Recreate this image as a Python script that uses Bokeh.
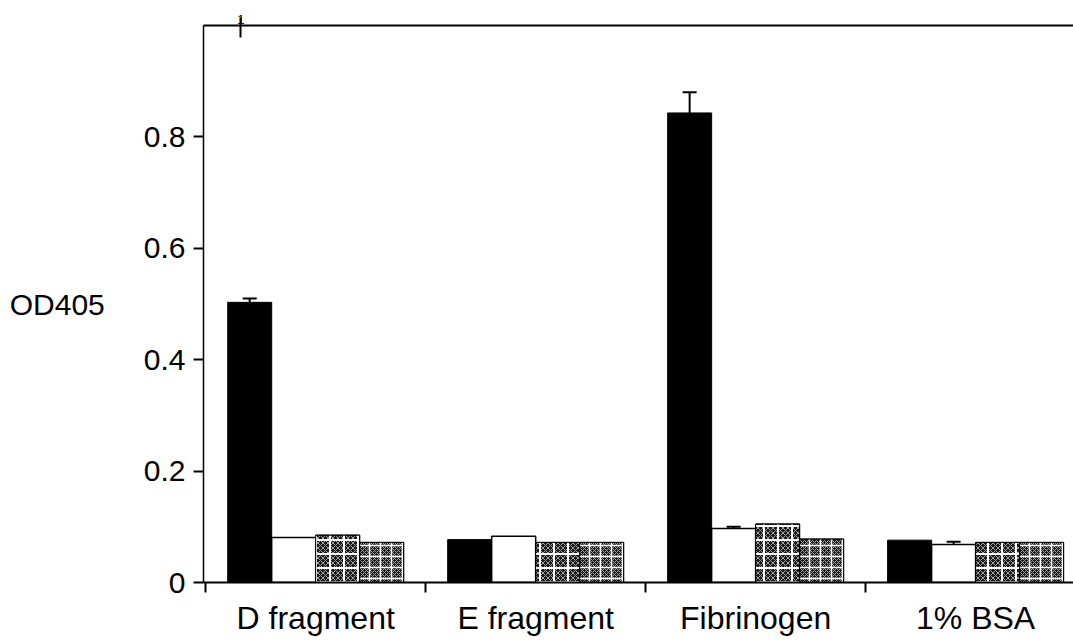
from bokeh.plotting import figure
from bokeh.models import FixedTicker, ColumnDataSource, Whisker, TeeHead, Range1d, LinearAxis
from bokeh.embed import file_html
from bokeh.resources import INLINE

categories = ["D fragment", "E fragment", "Fibrinogen", "1% BSA"]
black_vals = [0.503, 0.077, 0.843, 0.076]
white_vals = [0.081, 0.083, 0.097, 0.068]
cross_vals = [0.085, 0.072, 0.105, 0.072]
fine_vals = [0.072, 0.072, 0.078, 0.072]
black_err = [0.007, 0.0, 0.037, 0.0]
white_err = [0.0, 0.0, 0.003, 0.005]
y_ticks = [0, 0.2, 0.4, 0.6, 0.8]
y_labels = ["0", "0.2", "0.4", "0.6", "0.8"]
top_mark_x = [0.16]
top_mark_label = ["1"]

FONT = "Liberation Sans"

p = figure(frame_width=870, frame_height=557, output_backend="svg", toolbar_location=None,
           x_range=Range1d(-0.01, 3.945), y_range=Range1d(0, 1),
           min_border_left=203, min_border_top=25, min_border_right=0, min_border_bottom=0)
p.outline_line_color = None
p.grid.visible = False
p.background_fill_color = "white"
p.border_fill_color = "white"

n = len(categories)
width = 0.2

def xs(j):
    return [i + 0.2 + 0.2 * j for i in range(n)]

# black
p.vbar(x=xs(0), top=black_vals, width=width, fill_color="black", line_color="black", line_width=1)
# white
p.vbar(x=xs(1), top=white_vals, width=width, fill_color="white", line_color="black", line_width=1.5)
# cross pattern
p.vbar(x=xs(2), top=cross_vals, width=width, fill_color="#1a1a1a", line_color="black",
       hatch_pattern="x", hatch_color="#a0a0a0", hatch_scale=5, hatch_weight=1)
p.vbar(x=xs(2), top=cross_vals, width=width, fill_alpha=0, line_color="black",
       hatch_pattern="+", hatch_color="white", hatch_scale=14, hatch_weight=2)
# fine pattern
p.vbar(x=xs(3), top=fine_vals, width=width, fill_color="#1a1a1a", line_color="black",
       hatch_pattern="x", hatch_color="#a0a0a0", hatch_scale=4, hatch_weight=1)
p.vbar(x=xs(3), top=fine_vals, width=width, fill_alpha=0, line_color="black",
       hatch_pattern="+", hatch_color="white", hatch_scale=11, hatch_weight=1.5)

# error bars
for j, (vals, errs) in enumerate([(black_vals, black_err), (white_vals, white_err)]):
    xx, lo, hi = [], [], []
    for i in range(n):
        if errs[i] > 0:
            xx.append(xs(j)[i]); lo.append(vals[i]); hi.append(vals[i] + errs[i])
    src = ColumnDataSource(dict(x=xx, lower=lo, upper=hi))
    w = Whisker(source=src, base="x", lower="lower", upper="upper", line_color="black", line_width=2,
                upper_head=TeeHead(size=14, line_color="black", line_width=2), lower_head=None)
    p.add_layout(w)

# top axis (frame top line with the odd "1" mark)
top = LinearAxis(ticker=FixedTicker(ticks=top_mark_x, minor_ticks=[]),
                 major_label_overrides={x: l for x, l in zip(top_mark_x, top_mark_label)})
top.axis_line_width = 2
top.axis_line_color = "black"
top.major_tick_in = 12
top.major_tick_out = 8
top.major_tick_line_width = 2
top.minor_tick_line_color = None
top.major_label_text_font = FONT
top.major_label_text_font_size = "13px"
top.major_label_text_color = "black"
top.major_label_standoff = -6
p.add_layout(top, "above")

# y axis
p.yaxis.ticker = FixedTicker(ticks=y_ticks)
p.yaxis.major_label_overrides = {t: l for t, l in zip(y_ticks, y_labels)}
p.yaxis.major_label_text_font = FONT
p.yaxis.major_label_text_font_size = "30px"
p.yaxis.major_label_text_color = "black"
p.yaxis.major_tick_out = 10
p.yaxis.major_tick_in = 0
p.yaxis.minor_tick_line_color = None
p.yaxis.axis_line_width = 1.5
p.yaxis.major_tick_line_width = 2
p.yaxis.axis_label = "OD405"
p.yaxis.axis_label_orientation = "horizontal"
p.yaxis.axis_label_text_font = FONT
p.yaxis.axis_label_text_font_size = "30px"
p.yaxis.axis_label_text_font_style = "normal"
p.yaxis.axis_label_text_color = "black"
p.yaxis.axis_label_standoff = 36
p.yaxis.major_label_standoff = 8

# x axis
xax = p.below[0]
xax.ticker = FixedTicker(ticks=[i + 0.5 for i in range(n)], minor_ticks=list(range(n)))
xax.major_label_overrides = {i + 0.5: c for i, c in enumerate(categories)}
xax.major_tick_out = 0
xax.major_tick_in = 0
xax.minor_tick_out = 10
xax.minor_tick_in = 0
xax.minor_tick_line_width = 2
xax.axis_line_width = 2
xax.major_label_text_font = FONT
xax.major_label_text_font_size = "32px"
xax.major_label_text_color = "black"
xax.major_label_standoff = 7

open("out.html", "w").write(file_html(p, INLINE))
